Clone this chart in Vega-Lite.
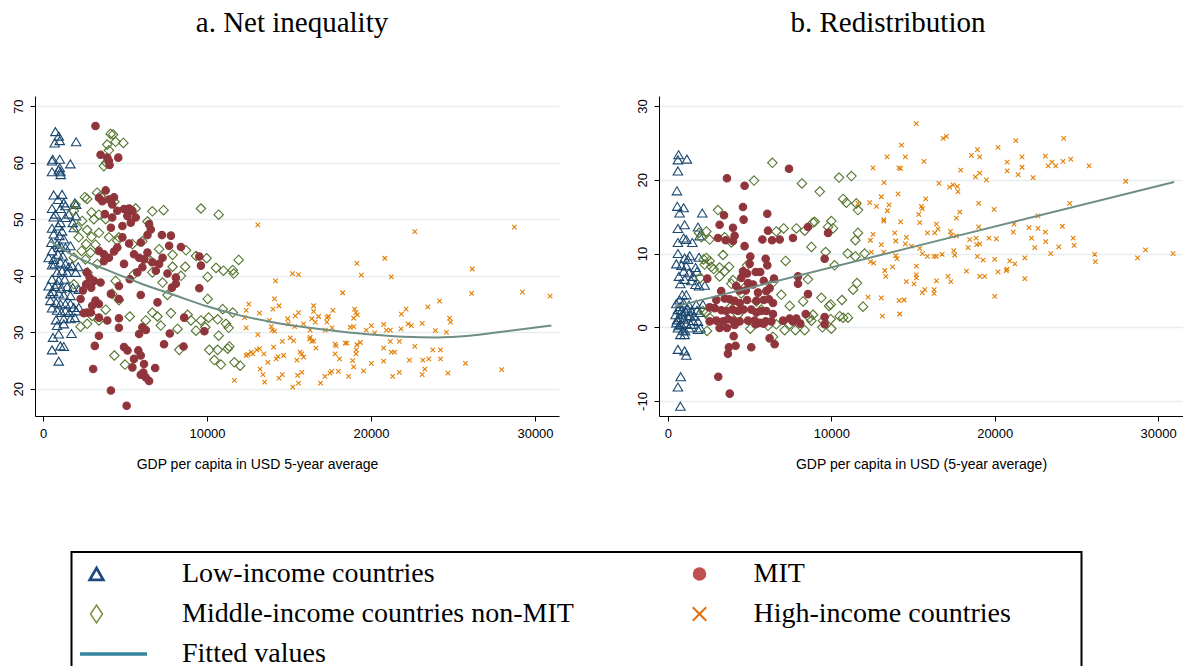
{
"$schema": "https://vega.github.io/schema/vega-lite/v6.json",
"background": "white",
"padding": {"left": 12, "top": 9, "right": 0, "bottom": 0},
"spacing": 77,
"config": {
  "view": {"stroke": null},
  "axis": {"domainColor": "#000", "domainWidth": 1, "tickColor": "#000", "tickSize": 5, "labelFont": "Liberation Sans", "labelFontSize": 13, "labelColor": "#000", "titleFont": "Liberation Sans", "titleFontSize": 14, "titleFontWeight": "normal", "titleColor": "#000", "gridColor": "#e6eef0", "gridWidth": 1.5},
  "axisX": {"grid": false, "labelPadding": 6, "titlePadding": 17, "labelFlush": false},
  "axisY": {"grid": true, "labelAngle": -90, "labelAlign": "center", "labelBaseline": "bottom", "labelPadding": 5, "title": null},
  "title": {"font": "Liberation Serif", "fontSize": 29, "fontWeight": "normal", "color": "#000", "frame": "group", "anchor": "middle", "baseline": "alphabetic", "offset": 58}
},
"datasets": {
"a_pts": [
{"g":"L","x":755,"y":65.5},{"g":"L","x":960,"y":64.7},{"g":"L","x":1020,"y":63.9},{"g":"L","x":714,"y":63.5},{"g":"L","x":2020,"y":63.7},{"g":"L","x":592,"y":60.6},{"g":"L","x":1020,"y":60.6},{"g":"L","x":551,"y":60.3},{"g":"L","x":1670,"y":59.8},{"g":"L","x":1020,"y":59.1},{"g":"L","x":960,"y":58.7},{"g":"L","x":551,"y":58.4},{"g":"L","x":1060,"y":58.4},{"g":"L","x":1080,"y":57.9},
{"g":"L","x":653,"y":54.3},{"g":"L","x":1163,"y":54.4},{"g":"L","x":918,"y":53.5},{"g":"L","x":1265,"y":52.9},{"g":"L","x":551,"y":51.9},{"g":"L","x":1060,"y":51.9},{"g":"L","x":1367,"y":52.4},{"g":"L","x":1939,"y":52.9},{"g":"L","x":2020,"y":52.6},{"g":"L","x":653,"y":50.4},{"g":"L","x":1060,"y":49.4},{"g":"L","x":918,"y":48.8},{"g":"L","x":551,"y":48.4},{"g":"L","x":1163,"y":47.9},{"g":"L","x":653,"y":47.4},{"g":"L","x":1000,"y":47.1},{"g":"L","x":1265,"y":46.5},{"g":"L","x":510,"y":45.9},{"g":"L","x":857,"y":45.6},{"g":"L","x":1122,"y":45.1},{"g":"L","x":1367,"y":45},{"g":"L","x":1673,"y":45.3},{"g":"L","x":551,"y":44.4},{"g":"L","x":918,"y":43.8},{"g":"L","x":1204,"y":43.5},{"g":"L","x":653,"y":42.9},{"g":"L","x":1060,"y":42.4},{"g":"L","x":551,"y":41.9},{"g":"L","x":1367,"y":42.1},{"g":"L","x":1571,"y":41.6},{"g":"L","x":1775,"y":41.8},{"g":"L","x":2143,"y":41.6},{"g":"L","x":857,"y":40.6},{"g":"L","x":1469,"y":40.6},{"g":"L","x":2000,"y":40.6},{"g":"L","x":551,"y":39.4},{"g":"L","x":960,"y":39.2},{"g":"L","x":1326,"y":39.4},{"g":"L","x":857,"y":38.5},{"g":"L","x":347,"y":38.2},{"g":"L","x":714,"y":38.1},{"g":"L","x":1122,"y":37.8},{"g":"L","x":1469,"y":38.1},{"g":"L","x":1816,"y":37.9},{"g":"L","x":2184,"y":37.6},{"g":"L","x":612,"y":37.2},{"g":"L","x":960,"y":36.9},{"g":"L","x":1265,"y":36.6},{"g":"L","x":1673,"y":36.5},{"g":"L","x":449,"y":35.6},{"g":"L","x":796,"y":35.3},{"g":"L","x":1060,"y":35},{"g":"L","x":1367,"y":35},{"g":"L","x":1673,"y":35},{"g":"L","x":1877,"y":34.4},{"g":"L","x":551,"y":34.3},{"g":"L","x":857,"y":33.9},{"g":"L","x":1122,"y":33.5},{"g":"L","x":1612,"y":33.5},{"g":"L","x":2020,"y":33.8},{"g":"L","x":2184,"y":34.4},{"g":"L","x":796,"y":32.2},{"g":"L","x":1265,"y":32.4},{"g":"L","x":1673,"y":32.4},{"g":"L","x":1939,"y":32.6},{"g":"L","x":612,"y":29.1},{"g":"L","x":960,"y":29.7},{"g":"L","x":1735,"y":29.8},{"g":"L","x":551,"y":26.9},{"g":"L","x":1060,"y":27.6},{"g":"L","x":1265,"y":27.5},{"g":"L","x":960,"y":24.9},
{"g":"L","x":347,"y":43.2},{"g":"L","x":1367,"y":50.3},{"g":"L","x":1571,"y":50.9},{"g":"L","x":2000,"y":50.6},{"g":"L","x":1816,"y":49.4},{"g":"L","x":1877,"y":48.5},{"g":"L","x":755,"y":50.9},{"g":"L","x":960,"y":45},{"g":"L","x":714,"y":42.1},{"g":"L","x":1163,"y":40.9},{"g":"L","x":449,"y":36.8},{"g":"L","x":1265,"y":31.5},{"g":"L","x":857,"y":31.2},{"g":"L","x":1367,"y":33.8},
{"g":"M","x":4120,"y":65.1},{"g":"M","x":4270,"y":65},{"g":"M","x":3920,"y":63.2},{"g":"M","x":4430,"y":63.7},{"g":"M","x":4900,"y":63.5},{"g":"M","x":4020,"y":62.2},{"g":"M","x":3710,"y":59.4},{"g":"M","x":3860,"y":60},{"g":"M","x":1980,"y":52.6},{"g":"M","x":2550,"y":53.9},{"g":"M","x":2690,"y":53.6},{"g":"M","x":3300,"y":54.7},{"g":"M","x":3510,"y":54.1},{"g":"M","x":4350,"y":53.1},{"g":"M","x":1880,"y":51.5},{"g":"M","x":2960,"y":51.2},{"g":"M","x":3410,"y":50.8},{"g":"M","x":5650,"y":51.9},{"g":"M","x":6670,"y":51.4},{"g":"M","x":7350,"y":51.6},{"g":"M","x":9630,"y":51.9},{"g":"M","x":10710,"y":50.8},{"g":"M","x":2390,"y":49.7},{"g":"M","x":3100,"y":50},{"g":"M","x":3820,"y":50},{"g":"M","x":6370,"y":49.6},{"g":"M","x":2080,"y":48.5},{"g":"M","x":2690,"y":48.1},{"g":"M","x":3410,"y":47.6},{"g":"M","x":2180,"y":46.8},{"g":"M","x":2960,"y":46.9},{"g":"M","x":4020,"y":46.8},{"g":"M","x":4530,"y":46.2},{"g":"M","x":2630,"y":45.6},{"g":"M","x":3200,"y":45.5},{"g":"M","x":2350,"y":44.4},{"g":"M","x":2900,"y":44.1},{"g":"M","x":1880,"y":43.2},{"g":"M","x":2590,"y":42.9},{"g":"M","x":3310,"y":42.1},{"g":"M","x":6570,"y":42.6},{"g":"M","x":7080,"y":44.7},{"g":"M","x":7900,"y":43.7},{"g":"M","x":8720,"y":44.5},{"g":"M","x":9330,"y":43.5},{"g":"M","x":9980,"y":43.1},{"g":"M","x":10550,"y":41.4},{"g":"M","x":11000,"y":40.9},{"g":"M","x":11570,"y":41},{"g":"M","x":11930,"y":42.8},{"g":"M","x":11630,"y":40.4},{"g":"M","x":8670,"y":41.6},{"g":"M","x":8410,"y":40},{"g":"M","x":7900,"y":41.6},{"g":"M","x":7290,"y":38.8},{"g":"M","x":6670,"y":40.6},{"g":"M","x":5550,"y":40.3},{"g":"M","x":4430,"y":39.1},{"g":"M","x":10040,"y":39.8},{"g":"M","x":10040,"y":35.9},{"g":"M","x":7590,"y":36.6},{"g":"M","x":6670,"y":33.5},{"g":"M","x":6980,"y":32.8},{"g":"M","x":6270,"y":32.1},{"g":"M","x":7180,"y":31.2},{"g":"M","x":7800,"y":33.4},{"g":"M","x":8200,"y":30.6},{"g":"M","x":8820,"y":33.1},{"g":"M","x":9020,"y":32.1},{"g":"M","x":9330,"y":30.3},{"g":"M","x":9630,"y":32.1},{"g":"M","x":9900,"y":30.9},{"g":"M","x":10100,"y":32.6},{"g":"M","x":10650,"y":32.3},{"g":"M","x":11160,"y":31.5},{"g":"M","x":11320,"y":30.8},{"g":"M","x":10960,"y":34.1},{"g":"M","x":11570,"y":33.5},{"g":"M","x":10710,"y":29.4},{"g":"M","x":10140,"y":26.9},{"g":"M","x":10650,"y":26.9},{"g":"M","x":11260,"y":27.1},{"g":"M","x":11360,"y":27.5},{"g":"M","x":10450,"y":25.1},{"g":"M","x":10850,"y":24.3},{"g":"M","x":11670,"y":24.7},{"g":"M","x":12020,"y":24.1},{"g":"M","x":8310,"y":26.9},{"g":"M","x":4630,"y":35.7},{"g":"M","x":3820,"y":34},{"g":"M","x":3410,"y":32.1},{"g":"M","x":2690,"y":31.5},{"g":"M","x":2290,"y":31},{"g":"M","x":3000,"y":32.9},{"g":"M","x":4350,"y":25.9},{"g":"M","x":5000,"y":24.3},{"g":"M","x":5290,"y":32.8},{"g":"M","x":4220,"y":36.8},{"g":"M","x":2710,"y":40.6},{"g":"M","x":1880,"y":38.5},{"g":"M","x":5450,"y":45.6},{"g":"M","x":6060,"y":46.1},{"g":"M","x":4630,"y":46.8},
{"g":"MIT","x":3200,"y":66.5},{"g":"MIT","x":3510,"y":61.4},{"g":"MIT","x":3920,"y":60.9},{"g":"MIT","x":4020,"y":60.3},{"g":"MIT","x":4590,"y":60.9},{"g":"MIT","x":4060,"y":59.6},{"g":"MIT","x":3820,"y":55.1},{"g":"MIT","x":3410,"y":53.8},{"g":"MIT","x":3610,"y":53.2},{"g":"MIT","x":4020,"y":53.5},{"g":"MIT","x":4220,"y":52.6},{"g":"MIT","x":4530,"y":51.5},{"g":"MIT","x":4940,"y":51.8},{"g":"MIT","x":5250,"y":51.9},{"g":"MIT","x":5450,"y":51.5},{"g":"MIT","x":5140,"y":50.6},{"g":"MIT","x":5650,"y":50.3},{"g":"MIT","x":5350,"y":49.4},{"g":"MIT","x":4840,"y":48.8},{"g":"MIT","x":4220,"y":50.3},{"g":"MIT","x":3770,"y":50.9},{"g":"MIT","x":4140,"y":48.5},{"g":"MIT","x":6470,"y":49.1},{"g":"MIT","x":6570,"y":48.2},{"g":"MIT","x":6370,"y":47.2},{"g":"MIT","x":7250,"y":47.2},{"g":"MIT","x":7800,"y":47.1},{"g":"MIT","x":7690,"y":45.3},{"g":"MIT","x":8410,"y":45.1},{"g":"MIT","x":9530,"y":43.4},{"g":"MIT","x":9630,"y":41.8},{"g":"MIT","x":9530,"y":37.8},{"g":"MIT","x":9840,"y":30.2},{"g":"MIT","x":8610,"y":32.6},{"g":"MIT","x":8570,"y":27.5},{"g":"MIT","x":8100,"y":39.7},{"g":"MIT","x":8100,"y":38.6},{"g":"MIT","x":7860,"y":37.9},{"g":"MIT","x":7590,"y":40.4},{"g":"MIT","x":7290,"y":43.2},{"g":"MIT","x":7080,"y":42.1},{"g":"MIT","x":6370,"y":44.1},{"g":"MIT","x":6160,"y":42.9},{"g":"MIT","x":5860,"y":43.2},{"g":"MIT","x":5550,"y":43.8},{"g":"MIT","x":5960,"y":45.9},{"g":"MIT","x":5250,"y":45.7},{"g":"MIT","x":4840,"y":46.8},{"g":"MIT","x":4330,"y":44.3},{"g":"MIT","x":4020,"y":43.2},{"g":"MIT","x":3710,"y":43.8},{"g":"MIT","x":3410,"y":44.4},{"g":"MIT","x":3710,"y":42.6},{"g":"MIT","x":4530,"y":45},{"g":"MIT","x":4940,"y":42.1},{"g":"MIT","x":5290,"y":39.4},{"g":"MIT","x":4630,"y":38.2},{"g":"MIT","x":5750,"y":40.6},{"g":"MIT","x":6060,"y":41.5},{"g":"MIT","x":2670,"y":40.6},{"g":"MIT","x":2840,"y":39.7},{"g":"MIT","x":3100,"y":39.1},{"g":"MIT","x":2630,"y":38.5},{"g":"MIT","x":2940,"y":37.9},{"g":"MIT","x":2430,"y":37.4},{"g":"MIT","x":2290,"y":35.9},{"g":"MIT","x":2690,"y":33.5},{"g":"MIT","x":2490,"y":33.4},{"g":"MIT","x":2920,"y":33.5},{"g":"MIT","x":3200,"y":35.6},{"g":"MIT","x":3410,"y":35},{"g":"MIT","x":3000,"y":34.7},{"g":"MIT","x":3510,"y":38.8},{"g":"MIT","x":3410,"y":32.6},{"g":"MIT","x":3410,"y":29.4},{"g":"MIT","x":3160,"y":27.6},{"g":"MIT","x":3060,"y":23.5},{"g":"MIT","x":3920,"y":32.1},{"g":"MIT","x":4630,"y":32.5},{"g":"MIT","x":4630,"y":30.8},{"g":"MIT","x":4140,"y":36.8},{"g":"MIT","x":4630,"y":35.9},{"g":"MIT","x":4940,"y":27.4},{"g":"MIT","x":5150,"y":26.8},{"g":"MIT","x":5550,"y":25.3},{"g":"MIT","x":5450,"y":23.8},{"g":"MIT","x":5810,"y":26.8},{"g":"MIT","x":5960,"y":25.9},{"g":"MIT","x":5860,"y":29.7},{"g":"MIT","x":6060,"y":30.9},{"g":"MIT","x":6270,"y":30.4},{"g":"MIT","x":5960,"y":36.6},{"g":"MIT","x":6160,"y":24.4},{"g":"MIT","x":6120,"y":22.9},{"g":"MIT","x":6270,"y":22},{"g":"MIT","x":6470,"y":21.4},{"g":"MIT","x":6840,"y":23.7},{"g":"MIT","x":5960,"y":22.5},{"g":"MIT","x":4140,"y":19.7},{"g":"MIT","x":5100,"y":17},{"g":"MIT","x":7380,"y":27.9},{"g":"MIT","x":7730,"y":29.8},{"g":"MIT","x":6980,"y":35.3},{"g":"MIT","x":6880,"y":40.9},{"g":"MIT","x":6670,"y":42.4},{"g":"MIT","x":4330,"y":53.9},
{"g":"H","x":11670,"y":21.5},{"g":"H","x":12290,"y":32.6},{"g":"H","x":12390,"y":33.9},{"g":"H","x":12550,"y":35},{"g":"H","x":12390,"y":30.8},{"g":"H","x":12490,"y":26.1},{"g":"H","x":12390,"y":25.9},{"g":"H","x":12700,"y":26.5},{"g":"H","x":12800,"y":26.2},{"g":"H","x":13100,"y":49},{"g":"H","x":13200,"y":33.4},{"g":"H","x":13100,"y":29.6},{"g":"H","x":13200,"y":27.1},{"g":"H","x":13040,"y":26.9},{"g":"H","x":13240,"y":23.5},{"g":"H","x":13410,"y":22.5},{"g":"H","x":13510,"y":21.2},{"g":"H","x":13470,"y":26.2},{"g":"H","x":13810,"y":32.1},{"g":"H","x":13710,"y":24.7},{"g":"H","x":13920,"y":31},{"g":"H","x":13980,"y":30.4},{"g":"H","x":14020,"y":34.1},{"g":"H","x":14180,"y":39.1},{"g":"H","x":14120,"y":35.9},{"g":"H","x":14120,"y":30.2},{"g":"H","x":14060,"y":27.4},{"g":"H","x":14220,"y":25.3},{"g":"H","x":14330,"y":25.7},{"g":"H","x":14390,"y":34.7},{"g":"H","x":14390,"y":21.9},{"g":"H","x":14590,"y":22.5},{"g":"H","x":14590,"y":28.4},{"g":"H","x":14670,"y":25.9},{"g":"H","x":14920,"y":32.4},
{"g":"H","x":15210,"y":40.4},{"g":"H","x":15580,"y":40.2},{"g":"H","x":14970,"y":31.5},{"g":"H","x":15380,"y":32.9},{"g":"H","x":15580,"y":33.5},{"g":"H","x":15340,"y":31},{"g":"H","x":15890,"y":31.5},{"g":"H","x":16290,"y":30.4},{"g":"H","x":16500,"y":34.7},{"g":"H","x":16500,"y":33.7},{"g":"H","x":16600,"y":31.8},{"g":"H","x":16800,"y":32.8},{"g":"H","x":16390,"y":32.4},{"g":"H","x":16290,"y":29.1},{"g":"H","x":16250,"y":28.8},{"g":"H","x":16390,"y":28.4},{"g":"H","x":16500,"y":28.5},{"g":"H","x":16640,"y":27.2},{"g":"H","x":15070,"y":29},{"g":"H","x":15280,"y":28.5},{"g":"H","x":15480,"y":25.1},{"g":"H","x":15680,"y":26.5},{"g":"H","x":15780,"y":26.2},{"g":"H","x":15890,"y":25.6},{"g":"H","x":15780,"y":22.9},{"g":"H","x":15580,"y":21},{"g":"H","x":15230,"y":20.3},{"g":"H","x":15520,"y":22.4},{"g":"H","x":16920,"y":21},{"g":"H","x":17190,"y":22.2},{"g":"H","x":17500,"y":22.8},{"g":"H","x":17600,"y":23.1},{"g":"H","x":18010,"y":23.1},{"g":"H","x":17810,"y":26.2},{"g":"H","x":17870,"y":27.6},{"g":"H","x":17810,"y":27.9},{"g":"H","x":18080,"y":25.3},{"g":"H","x":17210,"y":30.4},{"g":"H","x":17310,"y":31.8},{"g":"H","x":17410,"y":32.8},{"g":"H","x":17310,"y":32.6},{"g":"H","x":17620,"y":30.8},{"g":"H","x":17680,"y":33.9},{"g":"H","x":18270,"y":37},{"g":"H","x":18740,"y":30.9},{"g":"H","x":18940,"y":31},{"g":"H","x":19000,"y":34.1},{"g":"H","x":19080,"y":33.5},{"g":"H","x":19160,"y":33.1},{"g":"H","x":18940,"y":32.5},{"g":"H","x":19140,"y":42.2},{"g":"H","x":19410,"y":40.1},{"g":"H","x":18430,"y":28.1},{"g":"H","x":18530,"y":28.1},{"g":"H","x":19140,"y":27.8},{"g":"H","x":19350,"y":28.2},{"g":"H","x":19080,"y":26.2},{"g":"H","x":19100,"y":26.9},{"g":"H","x":18880,"y":25},{"g":"H","x":18940,"y":23.9},{"g":"H","x":18630,"y":22.2},{"g":"H","x":19550,"y":23.2},{"g":"H","x":20020,"y":24.5},{"g":"H","x":19710,"y":30.4},{"g":"H","x":20020,"y":31.2},{"g":"H","x":20220,"y":29.9},{"g":"H","x":20770,"y":31.4},{"g":"H","x":20940,"y":30.4},{"g":"H","x":21180,"y":30.4},{"g":"H","x":20840,"y":43.1},{"g":"H","x":21240,"y":39.8},{"g":"H","x":21850,"y":33.2},{"g":"H","x":22140,"y":34.1},{"g":"H","x":21830,"y":30.6},{"g":"H","x":22260,"y":31.5},{"g":"H","x":22460,"y":31.2},{"g":"H","x":21730,"y":28.4},{"g":"H","x":21180,"y":28.4},{"g":"H","x":20770,"y":27.2},{"g":"H","x":21240,"y":26.5},{"g":"H","x":21440,"y":26.5},{"g":"H","x":20770,"y":24.9},{"g":"H","x":21320,"y":22.2},{"g":"H","x":21730,"y":22.9},{"g":"H","x":22340,"y":25.1},{"g":"H","x":22670,"y":47.8},{"g":"H","x":22670,"y":27.5},{"g":"H","x":23120,"y":31.6},{"g":"H","x":23160,"y":25.1},{"g":"H","x":23280,"y":23.5},{"g":"H","x":23120,"y":22.5},{"g":"H","x":23460,"y":34.5},{"g":"H","x":23520,"y":25.3},{"g":"H","x":23770,"y":26.9},{"g":"H","x":23930,"y":30.3},{"g":"H","x":24180,"y":35.5},{"g":"H","x":24240,"y":26.9},{"g":"H","x":24240,"y":25.3},{"g":"H","x":24600,"y":30},{"g":"H","x":24690,"y":22.8},{"g":"H","x":24790,"y":32.5},{"g":"H","x":24850,"y":31.8},{"g":"H","x":25760,"y":24.5},{"g":"H","x":26130,"y":36.9},{"g":"H","x":26170,"y":41.2},{"g":"H","x":27970,"y":23.4},{"g":"H","x":28740,"y":48.6},{"g":"H","x":29230,"y":37.1},{"g":"H","x":30920,"y":36.4}
],
"a_fit": [
{"x":450,"y":46.1},{"x":2000,"y":43.4},{"x":4000,"y":40.9},{"x":6000,"y":38.6},{"x":8000,"y":36.6},{"x":10000,"y":34.6},{"x":12000,"y":33.0},{"x":14000,"y":31.8},{"x":16000,"y":30.9},{"x":18000,"y":30.2},{"x":20000,"y":29.6},{"x":22000,"y":29.2},{"x":24000,"y":29.1},{"x":26000,"y":29.4},{"x":28000,"y":30.1},{"x":31000,"y":31.2}
],
"b_pts": [
{"g":"L","x":650,"y":23.4},{"g":"L","x":610,"y":22.7},{"g":"L","x":1160,"y":22.8},{"g":"L","x":610,"y":21.2},{"g":"L","x":550,"y":18.5},{"g":"L","x":570,"y":16.4},{"g":"L","x":960,"y":16.2},{"g":"L","x":710,"y":15.5},{"g":"L","x":2100,"y":15.5},{"g":"L","x":610,"y":13.4},{"g":"L","x":1020,"y":13.9},{"g":"L","x":1840,"y":13.6},{"g":"L","x":1940,"y":12.4},{"g":"L","x":960,"y":12.1},{"g":"L","x":1120,"y":11.9},{"g":"L","x":610,"y":11.5},{"g":"L","x":1490,"y":11.5},{"g":"L","x":610,"y":10},{"g":"L","x":1330,"y":9.7},{"g":"L","x":1020,"y":9.4},{"g":"L","x":1220,"y":9.2},{"g":"L","x":510,"y":8.6},{"g":"L","x":820,"y":8.4},{"g":"L","x":1120,"y":8.3},{"g":"L","x":1900,"y":9.5},{"g":"L","x":1690,"y":8.1},{"g":"L","x":1780,"y":7.6},{"g":"L","x":960,"y":7.6},{"g":"L","x":1290,"y":7.4},{"g":"L","x":670,"y":6.9},{"g":"L","x":1530,"y":6.9},{"g":"L","x":1020,"y":6.5},{"g":"L","x":1430,"y":6.3},{"g":"L","x":760,"y":5.9},{"g":"L","x":1690,"y":5.8},{"g":"L","x":1900,"y":5.6},{"g":"L","x":2250,"y":5.7},{"g":"L","x":880,"y":4.4},{"g":"L","x":1120,"y":4.4},{"g":"L","x":710,"y":3.7},{"g":"L","x":510,"y":3.2},{"g":"L","x":960,"y":3.3},{"g":"L","x":1290,"y":3},{"g":"L","x":1730,"y":3.1},{"g":"L","x":2140,"y":3.1},{"g":"L","x":610,"y":2.4},{"g":"L","x":820,"y":2.2},{"g":"L","x":1080,"y":2.1},{"g":"L","x":1430,"y":2.2},{"g":"L","x":1780,"y":2.3},{"g":"L","x":1940,"y":2},{"g":"L","x":470,"y":1.7},{"g":"L","x":710,"y":1.3},{"g":"L","x":960,"y":1.1},{"g":"L","x":1220,"y":1.4},{"g":"L","x":1530,"y":0.9},{"g":"L","x":1840,"y":0.8},{"g":"L","x":510,"y":0.6},{"g":"L","x":820,"y":0.4},{"g":"L","x":1120,"y":0.5},{"g":"L","x":1390,"y":0.4},{"g":"L","x":610,"y":-0.1},{"g":"L","x":920,"y":-0.4},{"g":"L","x":1290,"y":-0.1},{"g":"L","x":1840,"y":-0.3},{"g":"L","x":1980,"y":-0.1},{"g":"L","x":760,"y":-1},{"g":"L","x":1020,"y":-1},{"g":"L","x":610,"y":-3},{"g":"L","x":1020,"y":-3.2},{"g":"L","x":1120,"y":-3.8},{"g":"L","x":780,"y":-6.7},{"g":"L","x":610,"y":-8.1},{"g":"L","x":760,"y":-10.7},{"g":"L","x":560,"y":1.0},{"g":"L","x":880,"y":1.8},{"g":"L","x":1350,"y":1.6},{"g":"L","x":660,"y":0.2},{"g":"L","x":1050,"y":-0.5},{"g":"L","x":1600,"y":1.5},{"g":"L","x":750,"y":2.8},{"g":"L","x":1180,"y":2.6},
{"g":"M","x":6390,"y":22.3},{"g":"M","x":5270,"y":19.9},{"g":"M","x":8200,"y":19.5},{"g":"M","x":9290,"y":18.4},{"g":"M","x":10470,"y":20.3},{"g":"M","x":11230,"y":20.5},{"g":"M","x":10720,"y":17.4},{"g":"M","x":10920,"y":16.9},{"g":"M","x":11530,"y":16.8},{"g":"M","x":11630,"y":15.9},{"g":"M","x":3060,"y":15.9},{"g":"M","x":1900,"y":12.8},{"g":"M","x":2350,"y":13},{"g":"M","x":2040,"y":12.2},{"g":"M","x":3470,"y":12.2},{"g":"M","x":3880,"y":11.5},{"g":"M","x":6630,"y":13},{"g":"M","x":7080,"y":13.4},{"g":"M","x":7860,"y":13.4},{"g":"M","x":8370,"y":13.1},{"g":"M","x":8880,"y":14.2},{"g":"M","x":8980,"y":14.3},{"g":"M","x":10000,"y":14.4},{"g":"M","x":10100,"y":13.4},{"g":"M","x":9800,"y":13.6},{"g":"M","x":11630,"y":12.8},{"g":"M","x":11470,"y":11.8},{"g":"M","x":8780,"y":10.9},{"g":"M","x":9650,"y":10.2},{"g":"M","x":11000,"y":10},{"g":"M","x":11470,"y":9.6},{"g":"M","x":12040,"y":10},{"g":"M","x":10200,"y":8.4},{"g":"M","x":2180,"y":9.2},{"g":"M","x":2550,"y":9},{"g":"M","x":2250,"y":8.5},{"g":"M","x":2650,"y":8.2},{"g":"M","x":3370,"y":9.8},{"g":"M","x":3470,"y":7.6},{"g":"M","x":3740,"y":8.2},{"g":"M","x":3160,"y":6.9},{"g":"M","x":4840,"y":8.4},{"g":"M","x":3980,"y":6.4},{"g":"M","x":1980,"y":6.7},{"g":"M","x":4490,"y":4.6},{"g":"M","x":6430,"y":6.1},{"g":"M","x":7200,"y":9},{"g":"M","x":8570,"y":6.5},{"g":"M","x":6940,"y":4.4},{"g":"M","x":7450,"y":2.9},{"g":"M","x":8270,"y":3.5},{"g":"M","x":9390,"y":4},{"g":"M","x":9960,"y":3.1},{"g":"M","x":9860,"y":2.9},{"g":"M","x":10650,"y":3.7},{"g":"M","x":11330,"y":5.1},{"g":"M","x":11570,"y":6},{"g":"M","x":11940,"y":2.8},{"g":"M","x":10510,"y":1.5},{"g":"M","x":10720,"y":1.3},{"g":"M","x":11020,"y":1.3},{"g":"M","x":8670,"y":1.3},{"g":"M","x":8880,"y":1.7},{"g":"M","x":8780,"y":0.9},{"g":"M","x":9490,"y":0.9},{"g":"M","x":9960,"y":1.1},{"g":"M","x":10000,"y":-0.2},{"g":"M","x":9450,"y":0},{"g":"M","x":8370,"y":-0.4},{"g":"M","x":7800,"y":-0.4},{"g":"M","x":7140,"y":-0.4},{"g":"M","x":7450,"y":0.4},{"g":"M","x":6630,"y":0.4},{"g":"M","x":6120,"y":0.2},{"g":"M","x":6430,"y":-1.3},{"g":"M","x":5040,"y":-0.2},{"g":"M","x":4180,"y":3.1},{"g":"M","x":4290,"y":1.7},{"g":"M","x":5410,"y":3.5},{"g":"M","x":5710,"y":2.4},{"g":"M","x":2390,"y":-0.5},{"g":"M","x":2350,"y":2},{"g":"M","x":2140,"y":2.2},{"g":"M","x":2550,"y":1.3},{"g":"M","x":3880,"y":5.9},{"g":"M","x":4700,"y":5.4},{"g":"M","x":3820,"y":2.7},{"g":"M","x":2550,"y":11.9},{"g":"M","x":2800,"y":7.9},{"g":"M","x":3160,"y":8.1},{"g":"M","x":2350,"y":9.4},
{"g":"MIT","x":7410,"y":21.5},{"g":"MIT","x":3610,"y":20.2},{"g":"MIT","x":4690,"y":19.2},{"g":"MIT","x":3430,"y":15.2},{"g":"MIT","x":4590,"y":16.3},{"g":"MIT","x":4630,"y":14.6},{"g":"MIT","x":6080,"y":15.4},{"g":"MIT","x":3160,"y":13.9},{"g":"MIT","x":3980,"y":13.5},{"g":"MIT","x":3060,"y":12.1},{"g":"MIT","x":3530,"y":11.8},{"g":"MIT","x":4080,"y":12.4},{"g":"MIT","x":3980,"y":11.7},{"g":"MIT","x":5780,"y":11.9},{"g":"MIT","x":6370,"y":11.8},{"g":"MIT","x":6840,"y":11.9},{"g":"MIT","x":7650,"y":12.1},{"g":"MIT","x":6120,"y":13.1},{"g":"MIT","x":8570,"y":13.6},{"g":"MIT","x":9800,"y":12.8},{"g":"MIT","x":4690,"y":11},{"g":"MIT","x":5040,"y":9.6},{"g":"MIT","x":5000,"y":8.6},{"g":"MIT","x":5980,"y":9.3},{"g":"MIT","x":6080,"y":8.4},{"g":"MIT","x":9590,"y":9.3},{"g":"MIT","x":7960,"y":6.9},{"g":"MIT","x":7960,"y":5.9},{"g":"MIT","x":8570,"y":4.5},{"g":"MIT","x":2410,"y":6.6},{"g":"MIT","x":4590,"y":7.6},{"g":"MIT","x":4840,"y":7.3},{"g":"MIT","x":5370,"y":7.5},{"g":"MIT","x":5650,"y":7.5},{"g":"MIT","x":4490,"y":6.7},{"g":"MIT","x":4900,"y":6},{"g":"MIT","x":5210,"y":5.8},{"g":"MIT","x":5860,"y":6.3},{"g":"MIT","x":6490,"y":6.6},{"g":"MIT","x":4180,"y":5.6},{"g":"MIT","x":3260,"y":4.9},{"g":"MIT","x":4390,"y":5},{"g":"MIT","x":4760,"y":5},{"g":"MIT","x":5510,"y":4.7},{"g":"MIT","x":6020,"y":4.9},{"g":"MIT","x":6220,"y":5.3},{"g":"MIT","x":2960,"y":3.7},{"g":"MIT","x":3470,"y":3.9},{"g":"MIT","x":3780,"y":3.8},{"g":"MIT","x":4080,"y":3.6},{"g":"MIT","x":4390,"y":3.3},{"g":"MIT","x":4840,"y":3.7},{"g":"MIT","x":5410,"y":3.6},{"g":"MIT","x":5860,"y":3.7},{"g":"MIT","x":6180,"y":3.8},{"g":"MIT","x":6430,"y":3.3},{"g":"MIT","x":2550,"y":2.7},{"g":"MIT","x":2860,"y":2.6},{"g":"MIT","x":3270,"y":2.3},{"g":"MIT","x":3570,"y":2.2},{"g":"MIT","x":3940,"y":2.4},{"g":"MIT","x":4290,"y":2.2},{"g":"MIT","x":4630,"y":2.4},{"g":"MIT","x":5100,"y":2.4},{"g":"MIT","x":5410,"y":2},{"g":"MIT","x":5710,"y":2.2},{"g":"MIT","x":6020,"y":2.2},{"g":"MIT","x":6430,"y":1.8},{"g":"MIT","x":2550,"y":0.8},{"g":"MIT","x":2960,"y":0.9},{"g":"MIT","x":3370,"y":0.8},{"g":"MIT","x":3670,"y":1.1},{"g":"MIT","x":3980,"y":0.9},{"g":"MIT","x":4390,"y":0.8},{"g":"MIT","x":4900,"y":0.9},{"g":"MIT","x":5310,"y":0.9},{"g":"MIT","x":5610,"y":0.6},{"g":"MIT","x":5980,"y":0.8},{"g":"MIT","x":6330,"y":0.8},{"g":"MIT","x":3160,"y":-0.1},{"g":"MIT","x":3610,"y":-0.1},{"g":"MIT","x":4020,"y":-1.2},{"g":"MIT","x":4080,"y":0.3},{"g":"MIT","x":5370,"y":0.4},{"g":"MIT","x":5860,"y":0.5},{"g":"MIT","x":7040,"y":0.9},{"g":"MIT","x":7450,"y":1.2},{"g":"MIT","x":7650,"y":0.8},{"g":"MIT","x":7860,"y":1.2},{"g":"MIT","x":8100,"y":0.5},{"g":"MIT","x":8430,"y":1.8},{"g":"MIT","x":9590,"y":1.4},{"g":"MIT","x":9590,"y":0.4},{"g":"MIT","x":6220,"y":-1.5},{"g":"MIT","x":6530,"y":-2.3},{"g":"MIT","x":5100,"y":-2.7},{"g":"MIT","x":4140,"y":-2.5},{"g":"MIT","x":3730,"y":-2.7},{"g":"MIT","x":3670,"y":-3.6},{"g":"MIT","x":3080,"y":-6.7},{"g":"MIT","x":3780,"y":-9},
{"g":"H","x":11630,"y":16.8},{"g":"H","x":12350,"y":16.9},{"g":"H","x":12550,"y":21.6},{"g":"H","x":13410,"y":23.1},{"g":"H","x":14140,"y":21.6},{"g":"H","x":13230,"y":19.6},{"g":"H","x":13060,"y":17.7},{"g":"H","x":12760,"y":16.4},{"g":"H","x":13430,"y":15.8},{"g":"H","x":13530,"y":16.6},{"g":"H","x":13210,"y":14.6},{"g":"H","x":13210,"y":14.4},{"g":"H","x":14080,"y":18.1},{"g":"H","x":13880,"y":12.8},{"g":"H","x":13940,"y":11.7},{"g":"H","x":12550,"y":12.6},{"g":"H","x":12390,"y":11.8},{"g":"H","x":13060,"y":11.2},{"g":"H","x":13210,"y":10.2},{"g":"H","x":13940,"y":9.7},{"g":"H","x":14020,"y":9.3},{"g":"H","x":12450,"y":10.2},{"g":"H","x":12390,"y":8.9},{"g":"H","x":12590,"y":8.7},{"g":"H","x":13270,"y":7.7},{"g":"H","x":13330,"y":6.9},{"g":"H","x":13740,"y":8.2},{"g":"H","x":12250,"y":4.1},{"g":"H","x":13060,"y":4},{"g":"H","x":13120,"y":1.5},{"g":"H","x":14140,"y":3.6},{"g":"H","x":14180,"y":1.8},
{"g":"H","x":15200,"y":27.6},{"g":"H","x":14290,"y":24.7},{"g":"H","x":14530,"y":23.1},{"g":"H","x":14240,"y":21.5},{"g":"H","x":15670,"y":22.5},{"g":"H","x":16840,"y":25.6},{"g":"H","x":17040,"y":25.9},{"g":"H","x":16590,"y":19.5},{"g":"H","x":17240,"y":19},{"g":"H","x":17450,"y":19.3},{"g":"H","x":17710,"y":19.1},{"g":"H","x":17750,"y":18.4},{"g":"H","x":17920,"y":21.3},{"g":"H","x":18570,"y":23.3},{"g":"H","x":18940,"y":24.1},{"g":"H","x":19080,"y":23.1},{"g":"H","x":18820,"y":20.4},{"g":"H","x":19080,"y":20.9},{"g":"H","x":19490,"y":20},{"g":"H","x":20200,"y":24.4},{"g":"H","x":20760,"y":22.4},{"g":"H","x":20760,"y":21.2},{"g":"H","x":21290,"y":25.3},{"g":"H","x":21430,"y":20.7},{"g":"H","x":21670,"y":23.1},{"g":"H","x":21670,"y":21.7},{"g":"H","x":22350,"y":20.3},{"g":"H","x":23100,"y":23.2},{"g":"H","x":23270,"y":21.9},{"g":"H","x":23510,"y":22.4},{"g":"H","x":23740,"y":21.9},{"g":"H","x":24180,"y":22.5},{"g":"H","x":24220,"y":25.6},{"g":"H","x":24650,"y":22.8},{"g":"H","x":25780,"y":21.9},{"g":"H","x":28020,"y":19.8},{"g":"H","x":15780,"y":17.4},{"g":"H","x":15510,"y":16.4},{"g":"H","x":15570,"y":16.1},{"g":"H","x":15350,"y":15.3},{"g":"H","x":15410,"y":14.2},{"g":"H","x":14240,"y":14.3},{"g":"H","x":16430,"y":14},{"g":"H","x":16530,"y":13.3},{"g":"H","x":16330,"y":12.8},{"g":"H","x":15880,"y":12.8},{"g":"H","x":17650,"y":14.8},{"g":"H","x":17860,"y":15.6},{"g":"H","x":19020,"y":16.8},{"g":"H","x":19960,"y":16},{"g":"H","x":19020,"y":13.6},{"g":"H","x":18860,"y":12.1},{"g":"H","x":18470,"y":11.9},{"g":"H","x":18900,"y":11.2},{"g":"H","x":19080,"y":11.3},{"g":"H","x":18370,"y":10.8},{"g":"H","x":17290,"y":13},{"g":"H","x":17350,"y":12.5},{"g":"H","x":17650,"y":12.4},{"g":"H","x":14590,"y":12.2},{"g":"H","x":14530,"y":11.3},{"g":"H","x":14900,"y":11},{"g":"H","x":15410,"y":10.7},{"g":"H","x":15570,"y":10},{"g":"H","x":15880,"y":9.6},{"g":"H","x":16290,"y":9.6},{"g":"H","x":16430,"y":9.6},{"g":"H","x":16780,"y":9.9},{"g":"H","x":17490,"y":10.4},{"g":"H","x":17550,"y":9.8},{"g":"H","x":19650,"y":12.1},{"g":"H","x":20100,"y":12},{"g":"H","x":21180,"y":14},{"g":"H","x":21140,"y":12.9},{"g":"H","x":22100,"y":13.5},{"g":"H","x":22650,"y":15.1},{"g":"H","x":22650,"y":13.4},{"g":"H","x":23100,"y":12.9},{"g":"H","x":22250,"y":12.1},{"g":"H","x":22450,"y":10.8},{"g":"H","x":23120,"y":11.6},{"g":"H","x":23430,"y":10},{"g":"H","x":23920,"y":10.9},{"g":"H","x":24140,"y":13.7},{"g":"H","x":24590,"y":16.8},{"g":"H","x":24800,"y":12.1},{"g":"H","x":24860,"y":11.1},{"g":"H","x":26120,"y":9.9},{"g":"H","x":26160,"y":8.9},{"g":"H","x":28740,"y":9.4},{"g":"H","x":29230,"y":10.5},{"g":"H","x":30920,"y":10},{"g":"H","x":18940,"y":9.6},{"g":"H","x":19290,"y":9.1},{"g":"H","x":20000,"y":9.2},{"g":"H","x":20200,"y":7.5},{"g":"H","x":20920,"y":9},{"g":"H","x":21230,"y":8.6},{"g":"H","x":21840,"y":9.4},{"g":"H","x":20710,"y":7.7},{"g":"H","x":20760,"y":7.9},{"g":"H","x":21840,"y":6.6},{"g":"H","x":20000,"y":4.2},{"g":"H","x":19080,"y":6.9},{"g":"H","x":19390,"y":6.9},{"g":"H","x":18270,"y":7.6},{"g":"H","x":17140,"y":6.9},{"g":"H","x":17310,"y":6.2},{"g":"H","x":16430,"y":6.3},{"g":"H","x":16290,"y":5.1},{"g":"H","x":16290,"y":4.6},{"g":"H","x":15720,"y":5.1},{"g":"H","x":15570,"y":4.7},{"g":"H","x":15200,"y":8.3},{"g":"H","x":15200,"y":7.1},{"g":"H","x":15200,"y":6.7},{"g":"H","x":15060,"y":5.9},{"g":"H","x":14590,"y":6.2},{"g":"H","x":14450,"y":3.7}
],
"b_fit": [
{"x":410,"y":2.8},{"x":15000,"y":10.9},{"x":30980,"y":19.7}
]
},
"hconcat": [
{
  "width": 524, "height": 320,
  "title": {"text": "a. Net inequality", "dx": -5},
  "encoding": {
    "x": {"field": "x", "type": "quantitative", "scale": {"domain": [-488, 31463], "nice": false, "zero": false}, "axis": {"values": [0, 10000, 20000, 30000], "format": "d", "title": "GDP per capita in USD 5-year average", "titleX": 222}},
    "y": {"field": "y", "type": "quantitative", "scale": {"domain": [15.2, 71.8], "nice": false, "zero": false}, "axis": {"values": [20, 30, 40, 50, 60, 70], "format": "d"}}
  },
  "layer": [
    {
      "data": {"name": "a_pts"},
      "mark": {"type": "point", "size": 100, "strokeWidth": 1.1},
      "encoding": {
        "opacity": {"field": "g", "type": "nominal", "scale": {"domain": ["L", "M", "F", "MIT", "H"], "range": [1, 1, 1, 1, 1]},
          "legend": {
            "orient": "none", "legendX": 36.5, "legendY": 456, "columns": 2,
            "title": " ", "titleOrient": "right", "titlePadding": 63, "titleFontSize": 10,
            "labelFont": "Liberation Serif", "labelFontSize": 28, "labelColor": "#000", "labelLimit": 700, "labelOffset": 70.5,
            "symbolSize": 182, "symbolOffset": 4, "rowPadding": 12, "columnPadding": 76.5, "padding": 8,
            "strokeColor": "#000", "symbolOpacity": 1,
            "labelExpr": "datum.value === 'L' ? 'Low-income countries' : datum.value === 'MIT' ? 'MIT' : datum.value === 'M' ? 'Middle-income countries non-MIT' : datum.value === 'H' ? 'High-income countries' : 'Fitted values'",
            "encoding": {
              "legend": {"strokeWidth": {"value": 2}},
              "symbols": {
                "x": {"value": {"expr": "datum.value === 'MIT' || datum.value === 'H' ? 48.5 : 17"}},
                "shape": {"value": {"expr": "datum.value === 'L' ? 'triangle-up' : datum.value === 'MIT' ? 'circle' : datum.value === 'M' ? 'M0,-1.33L0.89,0L0,1.33L-0.89,0Z' : datum.value === 'H' ? 'M-1,-1L1,1M1,-1L-1,1' : 'M-2.44,0H7.48'"}},
                "fill": {"value": {"expr": "datum.value === 'MIT' ? '#c0504d' : 'transparent'"}},
                "fillOpacity": {"value": 1},
                "strokeOpacity": {"value": 1},
                "stroke": {"value": {"expr": "datum.value === 'L' ? '#1f497d' : datum.value === 'MIT' ? '#c0504d' : datum.value === 'M' ? '#77933c' : datum.value === 'H' ? '#e46c0a' : '#31859c'"}},
                "strokeWidth": {"value": {"expr": "datum.value === 'L' ? 2.8 : datum.value === 'MIT' ? 0 : datum.value === 'M' ? 1.5 : datum.value === 'H' ? 2 : 3.5"}}
              }
            }
          }
        },
        "fill": {"field": "g", "type": "nominal", "scale": {"domain": ["L", "MIT", "M", "H", "F"], "range": ["transparent", "#90353b", "transparent", "transparent", "transparent"]}, "legend": null},
        "stroke": {"field": "g", "type": "nominal", "scale": {"domain": ["L", "MIT", "M", "H", "F"], "range": ["#1a476f", "#90353b", "#55752f", "#e37e00", "#6e8e84"]}, "legend": null},
        "shape": {"field": "g", "type": "nominal", "scale": {"domain": ["L", "MIT", "M", "H", "F"], "range": ["M0,-0.8L0.95,0.8L-0.95,0.8Z", "M0.75,0A0.75,0.75,0,1,1,-0.75,0A0.75,0.75,0,1,1,0.75,0Z", "M0,-0.95L0.95,0L0,0.95L-0.95,0Z", "M-0.45,-0.45L0.45,0.45M0.45,-0.45L-0.45,0.45", "circle"]}, "legend": null}
      }
    },
    {
      "data": {"name": "a_fit"},
      "mark": {"type": "line", "color": "#6e8e84", "strokeWidth": 2, "interpolate": "monotone"},
      "encoding": {}
    }
  ]
},
{
  "width": 524, "height": 320,
  "title": {"text": "b. Redistribution", "dx": -33},
  "encoding": {
    "x": {"field": "x", "type": "quantitative", "scale": {"domain": [-549, 31524], "nice": false, "zero": false}, "axis": {"values": [0, 10000, 20000, 30000], "format": "d", "title": "GDP per capita in USD (5-year average)"}},
    "y": {"field": "y", "type": "quantitative", "scale": {"domain": [-12.03, 31.36], "nice": false, "zero": false}, "axis": {"values": [-10, 0, 10, 20, 30], "labelExpr": "datum.value < 0 ? '-' + abs(datum.value) : '' + datum.value"}}
  },
  "layer": [
    {
      "data": {"name": "b_pts"},
      "mark": {"type": "point", "size": 100, "strokeWidth": 1.1, "opacity": 1},
      "encoding": {
        "fill": {"field": "g", "type": "nominal", "scale": {"domain": ["L", "MIT", "M", "H", "F"], "range": ["transparent", "#90353b", "transparent", "transparent", "transparent"]}, "legend": null},
        "stroke": {"field": "g", "type": "nominal", "scale": {"domain": ["L", "MIT", "M", "H", "F"], "range": ["#1a476f", "#90353b", "#55752f", "#e37e00", "#6e8e84"]}, "legend": null},
        "shape": {"field": "g", "type": "nominal", "scale": {"domain": ["L", "MIT", "M", "H", "F"], "range": ["M0,-0.8L0.95,0.8L-0.95,0.8Z", "M0.75,0A0.75,0.75,0,1,1,-0.75,0A0.75,0.75,0,1,1,0.75,0Z", "M0,-0.95L0.95,0L0,0.95L-0.95,0Z", "M-0.45,-0.45L0.45,0.45M0.45,-0.45L-0.45,0.45", "circle"]}, "legend": null}
      }
    },
    {
      "data": {"name": "b_fit"},
      "mark": {"type": "line", "color": "#6e8e84", "strokeWidth": 2},
      "encoding": {}
    }
  ]
}
]
}
